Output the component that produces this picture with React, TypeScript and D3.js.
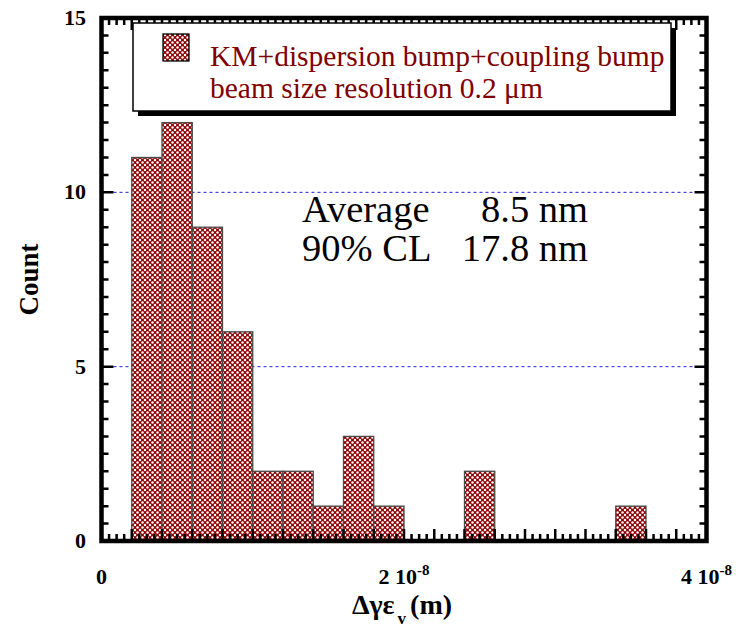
import React from "react";
import * as d3 from "d3";

// ---- data ----
const binStarts = [2e-9, 4e-9, 6e-9, 8e-9, 10e-9, 12e-9, 14e-9, 16e-9, 18e-9, 24e-9, 34e-9];
const counts = [11, 12, 9, 6, 2, 2, 1, 3, 1, 2, 1];
const binWidth = 2e-9;
const yTickLabels = [0, 5, 10, 15];
const gridValues = [5, 10];
const xTickValues = [0, 2e-8, 4e-8];
const xTickBase = ["0", "2 10", "4 10"];
const xTickExp = ["", "-8", "-8"];
const legendLines = ["KM+dispersion bump+coupling bump", "beam size resolution 0.2 \u03bcm"];
const statLabels = ["Average", "90% CL"];
const statValues = ["8.5 nm", "17.8 nm"];

const W = 738;
const H = 641;
const L = 101.5, R = 706.5, T = 18, B = 541;
const serif = "Liberation Serif, Times New Roman, serif";

export default function App() {
  const x = d3.scaleLinear().domain([0, 4e-8]).range([L, R]);
  const y = d3.scaleLinear().domain([0, 15]).range([B, T]);

  const xTicks = d3.range(0, 81).map((i) => i * 0.05e-8);
  const yTicks = d3.range(0, 31).map((i) => i * 0.5);
  const tw = 2.5;
  const fw = 4.5;

  return (
    <div style={{ position: "absolute", left: 0, top: 0, width: W, height: H, background: "#fff" }}>
      <svg width={W} height={H} viewBox={`0 0 ${W} ${H}`} fontFamily={serif} style={{ display: "block" }}>
        <defs>
          <pattern id="hatch" width={5} height={5} patternUnits="userSpaceOnUse">
            <rect width={5} height={5} fill="#8e0000" />
            <circle cx={0} cy={0} r={1.25} fill="#fff" />
            <circle cx={5} cy={0} r={1.25} fill="#fff" />
            <circle cx={0} cy={5} r={1.25} fill="#fff" />
            <circle cx={5} cy={5} r={1.25} fill="#fff" />
            <circle cx={2.5} cy={2.5} r={1.25} fill="#fff" />
          </pattern>
        </defs>

        {/* grid */}
        {gridValues.map((g) => (
          <line
            key={g}
            x1={L}
            x2={R - 8}
            y1={y(g)}
            y2={y(g)}
            stroke="#2020dd"
            strokeWidth={1}
            strokeDasharray="3,3"
          />
        ))}

        {/* bars */}
        {binStarts.map((s, i) => (
          <rect
            key={i}
            x={x(s)}
            y={y(counts[i])}
            width={x(s + binWidth) - x(s)}
            height={y(0) - y(counts[i])}
            fill="url(#hatch)"
            stroke="#4a4a4a"
            strokeWidth={1.3}
          />
        ))}

        {/* frame */}
        <path
          d={`M${L},${T}H${R}V${B}H${L}Z`}
          fill="none"
          stroke="#000"
          strokeWidth={fw}
          strokeLinejoin="miter"
        />

        {/* ticks */}
        {xTicks.map((v, i) => {
          const len = i % 4 === 0 ? 12 : 7;
          return (
            <path
              key={"x" + i}
              d={`M${x(v)},${B}V${B - len}M${x(v)},${T}V${T + len}`}
              stroke="#000"
              strokeWidth={tw}
              fill="none"
            />
          );
        })}
        {yTicks.map((v, i) => {
          const len = i % 10 === 0 ? 12 : 7;
          return (
            <path
              key={"y" + i}
              d={`M${L},${y(v)}H${L + len}M${R},${y(v)}H${R - len}`}
              stroke="#000"
              strokeWidth={tw}
              fill="none"
            />
          );
        })}

        {/* legend */}
        <rect x={138} y={28} width={538} height={88} fill="#000" />
        <rect x={133} y={23} width={538} height={88} fill="#fff" stroke="#000" strokeWidth={1.5} />
        <rect x={163} y={34} width={26} height={27} fill="url(#hatch)" stroke="#000" strokeWidth={1.3} />
        {legendLines.map((l, i) => (
          <text key={l} x={210} y={66 + i * 32} fontSize={29.5} fill="#800000">
            {l}
          </text>
        ))}

        {/* stats */}
        {statLabels.map((l, i) => (
          <g key={l}>
            <text x={302} y={222 + i * 39} fontSize={38.5} fill="#000">
              {l}
            </text>
            <text x={588} y={222 + i * 39} fontSize={38.5} fill="#000" textAnchor="end">
              {statValues[i]}
            </text>
          </g>
        ))}

        {/* y tick labels */}
        {yTickLabels.map((v) => (
          <text key={v} x={86} y={y(v) + 7} fontSize={22} fontWeight="bold" textAnchor="end">
            {v}
          </text>
        ))}

        {/* x tick labels */}
        {xTickValues.map((v, i) => (
          <text key={v} x={x(v)} y={584} fontSize={22} fontWeight="bold" textAnchor="middle">
            {xTickBase[i]}
            {xTickExp[i] ? (
              <tspan dy={-9} fontSize={15}>
                {xTickExp[i]}
              </tspan>
            ) : null}
          </text>
        ))}

        {/* axis titles */}
        <text
          transform={`translate(38,${(T + B) / 2}) rotate(-90)`}
          fontSize={27}
          fontWeight="bold"
          textAnchor="middle"
        >
          Count
        </text>
        <text x={402} y={614} fontSize={28} fontWeight="bold" textAnchor="middle">
          {"\u0394\u03b3\u03b5"}
          <tspan dx={3} dy={10} fontSize={17}>
            v
          </tspan>
          <tspan dx={4} dy={-10}>
            (m)
          </tspan>
        </text>
      </svg>
    </div>
  );
}
